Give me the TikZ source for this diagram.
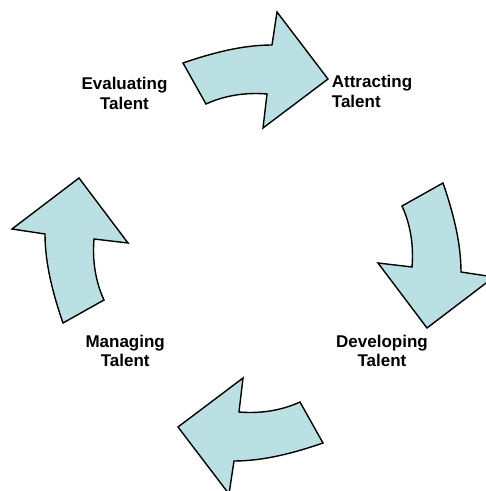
\documentclass[tikz,border=0pt]{standalone}
\usepackage{fontspec}
\setmainfont{Liberation Sans}
\usepackage{tikz}

\definecolor{arrowfill}{RGB}{187,224,227}

\begin{document}
\begin{tikzpicture}[x=1pt,y=1pt,
  cyclearrow/.style={draw=black,line width=1.4pt,fill=arrowfill,line join=miter},
  talent/.style={font=\bfseries\fontsize{17}{19.5}\selectfont,inner sep=0pt}]

\useasboundingbox (0,0) rectangle (486,491);

% Curved arrows, one per quarter, turned about the middle
\foreach \a in {0,-90,-180,-270}
{
\draw[cyclearrow,shift={(253,238)},rotate=\a]
  (-70,190) .. controls (-41.6,199.8) and (-11,208) .. (19,208)
  -- (24,241) -- (75,174) -- (10,125) -- (14,159)
  .. controls (-6.5,160.8) and (-28.3,157.7) .. (-47,149) -- cycle;
}

% Stage names
\node[talent,align=center,anchor=north] (evaluating) at (124.5,414) {Evaluating\\Talent};
\node[talent,align=left,anchor=north west] (attracting) at (331.7,415.8) {Attracting\\Talent};
\node[talent,align=center,anchor=north] (developing) at (382,156.4) {Developing\\Talent};
\node[talent,align=center,anchor=north] (managing) at (125.2,156.4) {Managing\\Talent};

\end{tikzpicture}
\end{document}
